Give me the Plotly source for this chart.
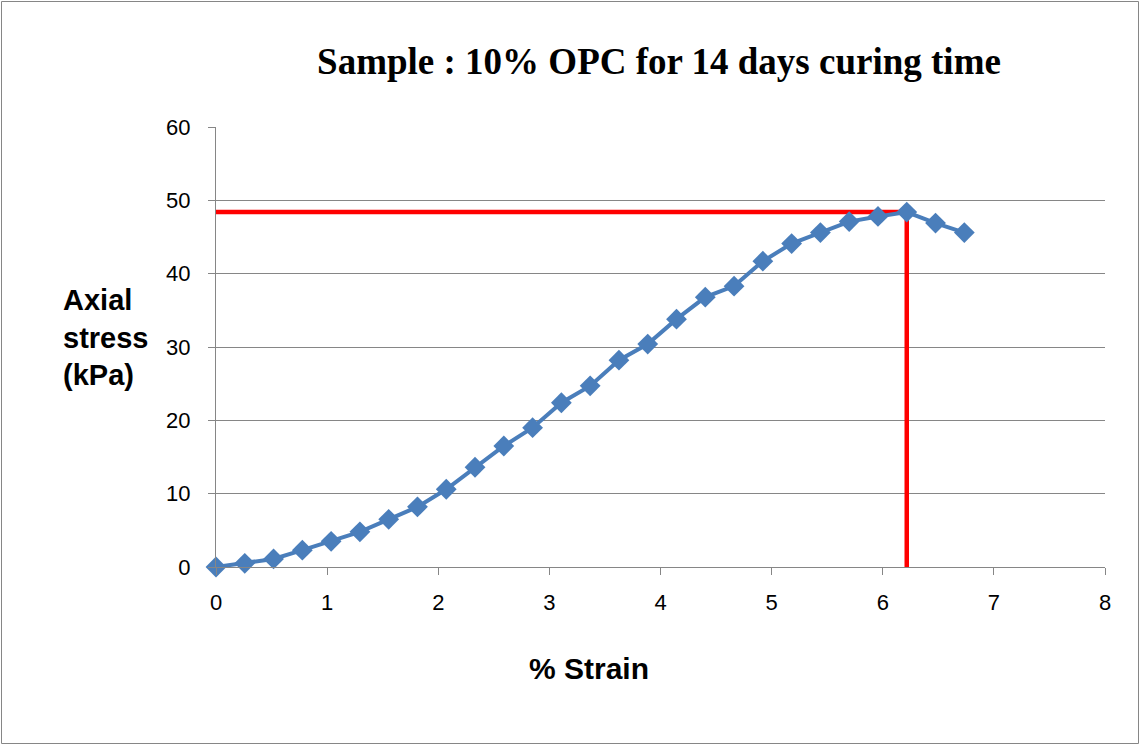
import plotly.graph_objects as go

strain = [round(i * 0.259, 3) for i in range(27)]
stress = [0.0, 0.5, 1.1, 2.3, 3.5, 4.8, 6.5, 8.2, 10.6, 13.6, 16.5, 19.0,
          22.4, 24.7, 28.2, 30.4, 33.8, 36.8, 38.3, 41.7, 44.1, 45.6,
          47.1, 47.8, 48.4, 46.9, 45.6]
peak_strain = strain[24]
peak_stress = stress[24]

W, H = 1140, 745
L, R, T, B = 216, 35, 127, 178
pw, ph = W - L - R, H - T - B

fig = go.Figure()
fig.add_trace(go.Scatter(x=[-0.015, peak_strain, peak_strain], y=[peak_stress, peak_stress, 0],
                         mode="lines", line=dict(color="#ff0000", width=4.5),
                         showlegend=False, hoverinfo="skip", cliponaxis=False))
fig.add_trace(go.Scatter(x=strain, y=stress, mode="lines+markers",
                         line=dict(color="#4a7ebb", width=4),
                         marker=dict(symbol="diamond", size=16, color="#4a7ebb"),
                         showlegend=False, cliponaxis=False))

tickfont = dict(family="Liberation Sans", size=22, color="black")
fig.update_layout(
    width=W, height=H, margin=dict(l=L, r=R, t=T, b=B),
    paper_bgcolor="white", plot_bgcolor="white",
    title=dict(text="<b>Sample : 10% OPC for 14 days curing time</b>",
               x=(659 - L) / pw, xref="paper", xanchor="center",
               y=1 - 61 / H, yanchor="middle",
               font=dict(family="Liberation Serif", size=37, color="black")),
    font=dict(family="Liberation Sans", size=18, color="black"),
    xaxis=dict(range=[0, 8], dtick=1, showgrid=False, zeroline=False,
               showline=True, linecolor="#868686", linewidth=1,
               ticks="outside", ticklen=7, tickcolor="#868686",
               tickfont=tickfont, ticklabelstandoff=9),
    yaxis=dict(range=[0, 60], dtick=10, showgrid=True, gridcolor="#868686",
               gridwidth=1, zeroline=False, showline=True, linecolor="#868686",
               linewidth=1, ticks="outside", ticklen=7, tickcolor="#868686",
               tickfont=tickfont, ticklabelstandoff=13),
    annotations=[
        dict(text="<b>Axial<br>stress<br>(kPa)</b>", xref="paper", yref="paper",
             x=(61 - L) / pw, xanchor="left", y=(H - B - 337) / ph, yanchor="middle",
             showarrow=False, align="left",
             font=dict(family="Liberation Sans", size=29, color="black")),
        dict(text="<b>% Strain</b>", xref="paper", yref="paper",
             x=(589 - L) / pw, xanchor="center", y=-(668 - (H - B)) / ph, yanchor="middle",
             showarrow=False,
             font=dict(family="Liberation Sans", size=30, color="black")),
    ],
    shapes=[dict(type="rect", xref="paper", yref="paper",
                 x0=(1.5 - L) / pw, x1=(W - 1.5 - L) / pw,
                 y0=-(H - 1.5 - (H - B)) / ph, y1=1 + (T - 1.5) / ph,
                 line=dict(color="#868686", width=1))],
)

fig.write_html("out.html")
